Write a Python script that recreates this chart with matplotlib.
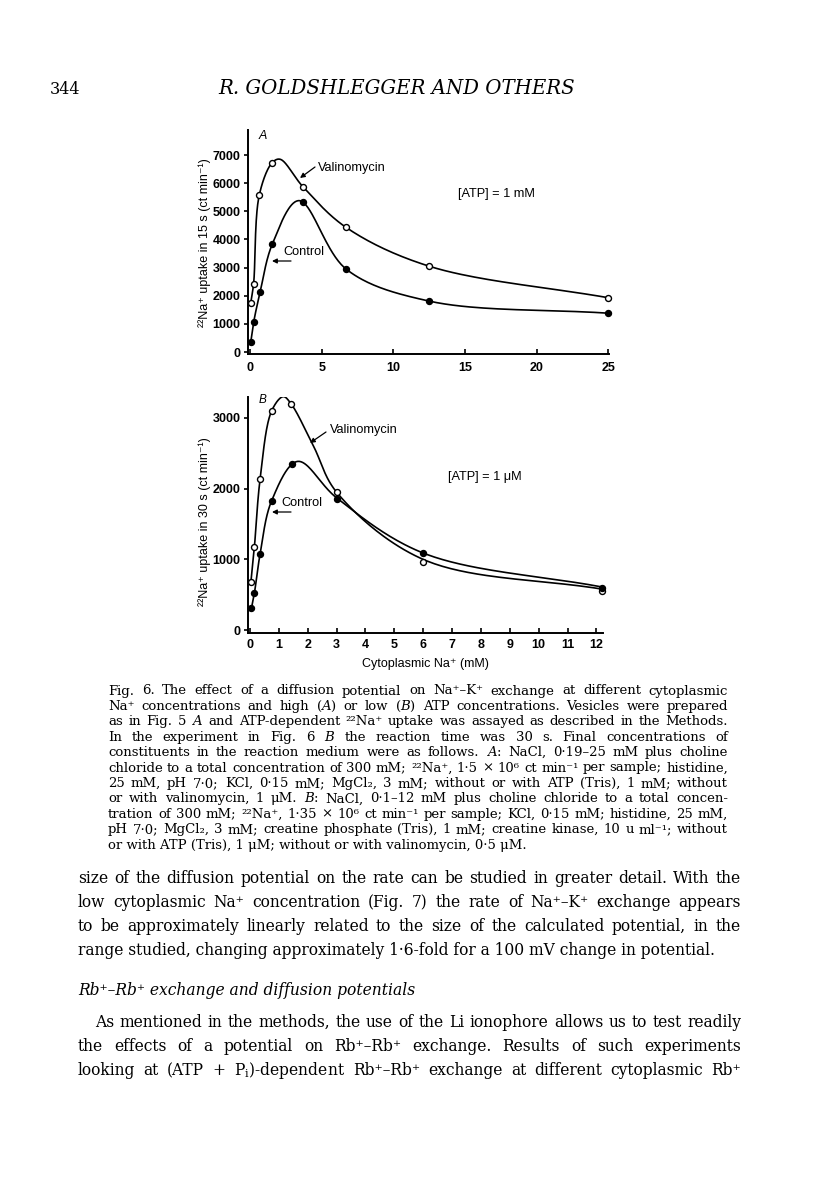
import numpy as np
import matplotlib
matplotlib.use("Agg")
import matplotlib.pyplot as plt

################################################################################
# Data
################################################################################

# Panel A: [ATP] = 1 mM, uptake in 15 s
a_val_x = [0.05, 0.25, 0.65, 1.55, 3.7, 6.7, 12.5, 25]
a_val_y = [1750, 2430, 5590, 6730, 5870, 4430, 3050, 1930]
a_ctl_x = [0.05, 0.25, 0.7, 1.55, 3.7, 6.7, 12.5, 25]
a_ctl_y = [350, 1050, 2120, 3830, 5330, 2950, 1810, 1380]
# drawn curves (markers plus a few points of the hand drawn line)
a_val_curve_x = [0.05, 0.25, 0.65, 1.55, 2.1, 3.7, 6.7, 12.5, 25]
a_val_curve_y = [1750, 2430, 5590, 6730, 6850, 5870, 4430, 3050, 1930]
a_ctl_curve_x = [0.05, 0.25, 0.7, 1.55, 3.4, 6.7, 12.5, 25]
a_ctl_curve_y = [350, 1050, 2120, 3830, 5380, 2950, 1810, 1380]

# Panel B: [ATP] = 1 uM, uptake in 30 s
b_val_x = [0.03, 0.15, 0.35, 0.75, 1.42, 3.0, 6.0, 12.2]
b_val_y = [680, 1170, 2140, 3100, 3200, 1950, 970, 550]
b_ctl_x = [0.05, 0.15, 0.35, 0.75, 1.45, 3.0, 6.0, 12.2]
b_ctl_y = [310, 520, 1080, 1830, 2350, 1850, 1090, 600]
b_val_curve_x = [0.03, 0.15, 0.35, 0.75, 1.15, 1.42, 2.2, 3.0, 6.0, 12.2]
b_val_curve_y = [680, 1170, 2140, 3100, 3300, 3200, 2600, 1950, 1000, 580]
b_ctl_curve_x = [0.05, 0.15, 0.35, 0.75, 1.65, 3.0, 6.0, 12.2]
b_ctl_curve_y = [310, 520, 1080, 1830, 2385, 1870, 1090, 610]

a_xticks = [0, 5, 10, 15, 20, 25]
a_yticks = [0, 1000, 2000, 3000, 4000, 5000, 6000, 7000]
b_xticks = list(range(13))
b_yticks = [0, 1000, 2000, 3000]

header_num = "344"
header_title = "R. GOLDSHLEGGER AND OTHERS"

caption = [
    "Fig. 6. The effect of a diffusion potential on Na⁺–K⁺ exchange at different cytoplasmic",
    r"Na⁺ concentrations and high ($\mathit{A}$) or low ($\mathit{B}$) ATP concentrations. Vesicles were prepared",
    r"as in Fig. 5 $\mathit{A}$ and ATP-dependent ²²Na⁺ uptake was assayed as described in the Methods.",
    r"In the experiment in Fig. 6 $\mathit{B}$ the reaction time was 30 s. Final concentrations of",
    r"constituents in the reaction medium were as follows. $\mathit{A}$: NaCl, 0·19–25 mM plus choline",
    "chloride to a total concentration of 300 mM; ²²Na⁺, 1·5 × 10⁶ ct min⁻¹ per sample; histidine,",
    "25 mM, pH 7·0; KCl, 0·15 mM; MgCl₂, 3 mM; without or with ATP (Tris), 1 mM; without",
    r"or with valinomycin, 1 μM. $\mathit{B}$: NaCl, 0·1–12 mM plus choline chloride to a total concen-",
    "tration of 300 mM; ²²Na⁺, 1·35 × 10⁶ ct min⁻¹ per sample; KCl, 0·15 mM; histidine, 25 mM,",
    "pH 7·0; MgCl₂, 3 mM; creatine phosphate (Tris), 1 mM; creatine kinase, 10 u ml⁻¹; without",
    "or with ATP (Tris), 1 μM; without or with valinomycin, 0·5 μM.",
]

body1 = [
    "size of the diffusion potential on the rate can be studied in greater detail. With the",
    "low cytoplasmic Na⁺ concentration (Fig. 7) the rate of Na⁺–K⁺ exchange appears",
    "to be approximately linearly related to the size of the calculated potential, in the",
    "range studied, changing approximately 1·6-fold for a 100 mV change in potential.",
]
heading = "Rb⁺–Rb⁺ exchange and diffusion potentials"
body2 = [
    "As mentioned in the methods, the use of the Li ionophore allows us to test readily",
    "the effects of a potential on Rb⁺–Rb⁺ exchange. Results of such experiments",
    r"looking at (ATP + P$_{\mathrm{i}}$)-dependent Rb⁺–Rb⁺ exchange at different cytoplasmic Rb⁺",
]

################################################################################
# Page setup
################################################################################
W, H = 816, 1181
SANS = ['Liberation Sans', 'DejaVu Sans']
SERIF = ['DejaVu Serif']
plt.rcParams['mathtext.fontset'] = 'dejavuserif'

fig = plt.figure(figsize=(W / 100, H / 100), dpi=100, facecolor='white')
renderer = fig.canvas.get_renderer()


def fx(x):
    return x / W


def fy(y):
    return 1 - y / H


def text_width(text, size, **kw):
    t = fig.text(0, 0, text, fontsize=size, family=SERIF, **kw)
    w = t.get_window_extent(renderer).width
    t.remove()
    return w


def block_size(lines, x0s, x1, **kw):
    # largest size at which every justified line still fits with normal spaces
    return min(10 * (x1 - x0) / text_width(l, 10, **kw) for l, x0 in zip(lines, x0s))


def put_line(text, x0, y, size, x1=None, **kw):
    # one line of page text; justified between x0 and x1 when x1 is given
    if x1 is None:
        fig.text(fx(x0), fy(y), text, fontsize=size, family=SERIF, va='baseline', **kw)
        return
    words = text.split(' ')
    objs = [fig.text(0, fy(y), w, fontsize=size, family=SERIF, va='baseline', **kw) for w in words]
    widths = [o.get_window_extent(renderer).width for o in objs]
    gap = (x1 - x0 - sum(widths)) / max(len(words) - 1, 1)
    x = x0
    for o, w in zip(objs, widths):
        o.set_x(fx(x))
        x += w + gap


def fit_text(text, x0, x1, y, **kw):
    t = fig.text(fx(x0), fy(y), text, fontsize=10, family=SERIF, va='baseline', **kw)
    w = t.get_window_extent(renderer).width
    t.set_fontsize(10 * (x1 - x0) / w)


def smooth(ax, xs, ys, n=40):
    # centripetal Catmull-Rom through the read points, done in pixel space
    x0, x1 = ax.get_xlim()
    y0, y1 = ax.get_ylim()
    bb = ax.get_position()
    sx = bb.width * W / (x1 - x0)
    sy = bb.height * H / (y1 - y0)
    P = np.column_stack([np.asarray(xs, float) * sx, np.asarray(ys, float) * sy])
    P = np.vstack([2 * P[0] - P[1], P, 2 * P[-1] - P[-2]])
    out = []
    for i in range(1, len(P) - 2):
        p0, p1, p2, p3 = P[i - 1:i + 3]
        t0 = 0.0
        t1 = t0 + np.linalg.norm(p1 - p0) ** 0.5
        t2 = t1 + np.linalg.norm(p2 - p1) ** 0.5
        t3 = t2 + np.linalg.norm(p3 - p2) ** 0.5
        t = np.linspace(t1, t2, n)[:, None]
        A1 = (t1 - t) / (t1 - t0) * p0 + (t - t0) / (t1 - t0) * p1
        A2 = (t2 - t) / (t2 - t1) * p1 + (t - t1) / (t2 - t1) * p2
        A3 = (t3 - t) / (t3 - t2) * p2 + (t - t2) / (t3 - t2) * p3
        B1 = (t2 - t) / (t2 - t0) * A1 + (t - t0) / (t2 - t0) * A2
        B2 = (t3 - t) / (t3 - t1) * A2 + (t - t1) / (t3 - t1) * A3
        C = (t2 - t) / (t2 - t1) * B1 + (t - t1) / (t2 - t1) * B2
        out.append(C)
    pts = np.vstack(out)
    return pts[:, 0] / sx, pts[:, 1] / sy


def style_axes(ax, xticks, yticks, xpad):
    for s in ('top', 'right'):
        ax.spines[s].set_visible(False)
    for s in ('left', 'bottom'):
        ax.spines[s].set_linewidth(1.4)
    ax.set_xticks(xticks)
    ax.set_yticks(yticks)
    ax.tick_params(axis='x', direction='in', length=3.5, width=1.2, pad=xpad)
    ax.tick_params(axis='y', direction='out', length=3, width=1.2, pad=2.5)
    for lab in ax.get_xticklabels() + ax.get_yticklabels():
        lab.set_family(SANS)
        lab.set_fontsize(9)
        lab.set_fontweight('bold')
    ax.patch.set_visible(False)


def draw_series(ax, cx, cy, mx, my, filled):
    xs, ys = smooth(ax, cx, cy)
    ax.plot(xs, ys, color='black', lw=1.2, zorder=2)
    ax.plot(mx, my, 'o', ms=4.3, mec='black', mew=1.0,
            mfc='black' if filled else 'white', zorder=3, clip_on=False)


def arrow(x0, y0, x1, y1):
    fig.add_artist(matplotlib.patches.FancyArrowPatch(
        (fx(x0), fy(y0)), (fx(x1), fy(y1)), transform=fig.transFigure,
        arrowstyle='-|>', mutation_scale=7, lw=0.9, color='black',
        shrinkA=0, shrinkB=0))


def label(x, y, text, size=9.2, **kw):
    fig.text(fx(x), fy(y), text, fontsize=size, family=SANS, va='center', **kw)


################################################################################
# Panel A
################################################################################
axA = fig.add_axes([fx(248.3), fy(354), (609 - 248.3) / W, (354 - 130) / H])
axA.set_xlim(-0.12, 25.05)
axA.set_ylim(-70, 7890)
style_axes(axA, a_xticks, a_yticks, 6)
draw_series(axA, a_val_curve_x, a_val_curve_y, a_val_x, a_val_y, False)
draw_series(axA, a_ctl_curve_x, a_ctl_curve_y, a_ctl_x, a_ctl_y, True)

fig.text(fx(205), fy(243), "²²Na⁺ uptake in 15 s (ct min⁻¹)", rotation=90,
         fontsize=9, family=SANS, ha='center', va='center')
fig.text(fx(259), fy(136), "A", fontsize=9, family=SANS, style='italic', va='center')
label(318, 168, "Valinomycin")
arrow(315, 167, 300, 178)
label(283, 252, "Control")
arrow(291, 261, 272, 261)
label(458, 194, "[ATP] = 1 mM")

################################################################################
# Panel B
################################################################################
axB = fig.add_axes([fx(248.3), fy(633), (603 - 248.3) / W, (633 - 397) / H])
axB.set_xlim(-0.06, 12.23)
axB.set_ylim(-40, 3295)
style_axes(axB, b_xticks, b_yticks, 4.5)
draw_series(axB, b_val_curve_x, b_val_curve_y, b_val_x, b_val_y, False)
draw_series(axB, b_ctl_curve_x, b_ctl_curve_y, b_ctl_x, b_ctl_y, True)

fig.text(fx(205), fy(522), "²²Na⁺ uptake in 30 s (ct min⁻¹)", rotation=90,
         fontsize=9, family=SANS, ha='center', va='center')
fig.text(fx(259), fy(400), "B", fontsize=8.5, family=SANS, style='italic', va='center')
label(330, 430, "Valinomycin")
arrow(326, 432, 310, 443)
label(281, 503, "Control")
arrow(291, 512, 272, 512)
label(448, 477, "[ATP] = 1 μM")
fig.text(fx(425), fy(664), "Cytoplasmic Na⁺ (mM)", fontsize=9, family=SANS,
         ha='center', va='center')

################################################################################
# Page text
################################################################################
fig.text(fx(50), fy(94), header_num, fontsize=11.5, family=SERIF, va='baseline')
fit_text(header_title, 218, 575, 94, style='italic')

cap_size = block_size(caption[:-1], [108] * 10, 728)
for i, line in enumerate(caption):
    x1 = None if i == len(caption) - 1 else 728
    put_line(line, 108, 694.5 + i * 15.4, cap_size, x1)

body_lines = body1[:3] + body2
body_x0 = [78, 78, 78, 95, 78, 78]
body_size = block_size(body_lines, body_x0, 741)
for i, line in enumerate(body1):
    x1 = None if i == len(body1) - 1 else 741
    put_line(line, 78, 883 + i * 24, body_size, x1)

put_line(heading, 78, 995, body_size, style='italic')

for i, line in enumerate(body2):
    x0 = 95 if i == 0 else 78
    put_line(line, x0, 1027 + i * 24, body_size, 741)

fig.savefig("out.png", dpi=100, facecolor='white')
